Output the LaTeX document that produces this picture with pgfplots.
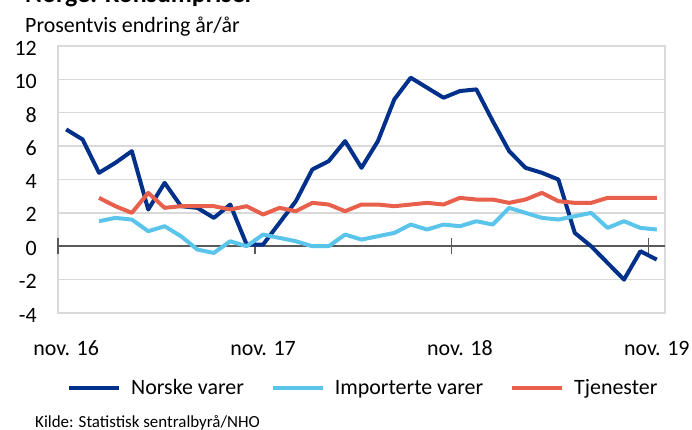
\documentclass[border=0pt]{standalone}
\usepackage{fontspec}
\setmainfont{Carlito}
\usepackage{pgfplots}
\pgfplotsset{compat=1.18}
\definecolor{navy}{HTML}{00308A}
\definecolor{lblue}{HTML}{5BC4EA}
\definecolor{tred}{HTML}{E8604C}
\definecolor{gridc}{HTML}{D9D9D9}
\definecolor{zeroc}{HTML}{595959}
\begin{document}
\begin{tikzpicture}
\useasboundingbox (0bp,0bp) rectangle (692bp,430bp);
\node[anchor=base west, inner sep=0pt, font=\fontsize{26}{30}\selectfont\bfseries] at (25bp,427bp) {Norge: Konsumpriser};
\node[anchor=base west, inner sep=0pt, font=\fontsize{22}{26}\selectfont] at (25bp,397bp) {Prosentvis endring år/år};
\node[anchor=base west, inner sep=0pt, font=\fontsize{17}{20}\selectfont] at (35bp,3bp) {Kilde: Statistisk sentralbyrå/NHO};
\begin{axis}[
  at={(58bp,117bp)}, anchor=south west,
  scale only axis, width=607bp, height=267bp,
  xmin=-0.5, xmax=36.5, ymin=-4, ymax=12,
  clip=false,
  axis line style={gridc, line width=1.3bp},
  ymajorgrids, grid style={gridc, line width=1.3bp},
  major tick length=0pt,
  ytick={-4,-2,...,12},
  xtick={0,12,24,36},
  xticklabels={nov. 16,nov. 17,nov. 18,nov. 19},
  tick label style={font=\fontsize{22}{26}\selectfont},
  /pgf/number format/assume math mode=true,
  yticklabel style={anchor=east, inner sep=0pt, xshift=-21bp, yshift=-2bp},
  xticklabel style={anchor=base, inner sep=0pt, yshift=-42bp},
  extra y ticks={0}, extra y tick labels={{}},
  extra y tick style={grid style={zeroc, line width=1.5bp}},
  no markers,
  every axis plot/.append style={line width=4bp, line join=round},
  legend columns=3,
  legend style={at={(0.503,-0.28)}, anchor=center, draw=none, fill=none,
    font=\fontsize{22}{26}\selectfont, inner sep=0pt,
    /tikz/every odd column/.append style={column sep=8bp},
    /tikz/every even column/.append style={column sep=25bp}},
  legend image code/.code={\draw[#1, line width=4bp] (0bp,0bp) -- (50bp,0bp);},
]
\draw[zeroc, line width=1.5bp] (axis cs:-0.5,-0.48) -- (axis cs:-0.5,0.48);
\draw[zeroc, line width=1.5bp] (axis cs:11.5,-0.48) -- (axis cs:11.5,0.48);
\draw[zeroc, line width=1.5bp] (axis cs:23.5,-0.48) -- (axis cs:23.5,0.48);
\draw[zeroc, line width=1.5bp] (axis cs:35.5,-0.48) -- (axis cs:35.5,0.48);
\addplot[navy] coordinates {(0,7.0)(1,6.4)(2,4.4)(3,5.0)(4,5.7)(5,2.2)(6,3.8)(7,2.4)(8,2.3)(9,1.7)(10,2.5)(11,0.1)(12,0.1)(13,1.4)(14,2.7)(15,4.6)(16,5.1)(17,6.3)(18,4.7)(19,6.3)(20,8.8)(21,10.1)(22,9.5)(23,8.9)(24,9.3)(25,9.4)(26,7.5)(27,5.7)(28,4.7)(29,4.4)(30,4.0)(31,0.8)(32,0.0)(33,-1.0)(34,-2.0)(35,-0.3)(36,-0.8)};
\addlegendentry{Norske varer}
\addplot[lblue] coordinates {(2,1.5)(3,1.7)(4,1.6)(5,0.9)(6,1.2)(7,0.6)(8,-0.2)(9,-0.4)(10,0.3)(11,0.0)(12,0.7)(13,0.5)(14,0.3)(15,0.0)(16,0.0)(17,0.7)(18,0.4)(19,0.6)(20,0.8)(21,1.3)(22,1.0)(23,1.3)(24,1.2)(25,1.5)(26,1.3)(27,2.3)(28,2.0)(29,1.7)(30,1.6)(31,1.8)(32,2.0)(33,1.1)(34,1.5)(35,1.1)(36,1.0)};
\addlegendentry{Importerte varer}
\addplot[tred] coordinates {(2,2.9)(3,2.4)(4,2.0)(5,3.2)(6,2.3)(7,2.4)(8,2.4)(9,2.4)(10,2.2)(11,2.4)(12,1.9)(13,2.3)(14,2.1)(15,2.6)(16,2.5)(17,2.1)(18,2.5)(19,2.5)(20,2.4)(21,2.5)(22,2.6)(23,2.5)(24,2.9)(25,2.8)(26,2.8)(27,2.6)(28,2.8)(29,3.2)(30,2.7)(31,2.6)(32,2.6)(33,2.9)(34,2.9)(35,2.9)(36,2.9)};
\addlegendentry{Tjenester}
\end{axis}
\end{tikzpicture}
\end{document}
